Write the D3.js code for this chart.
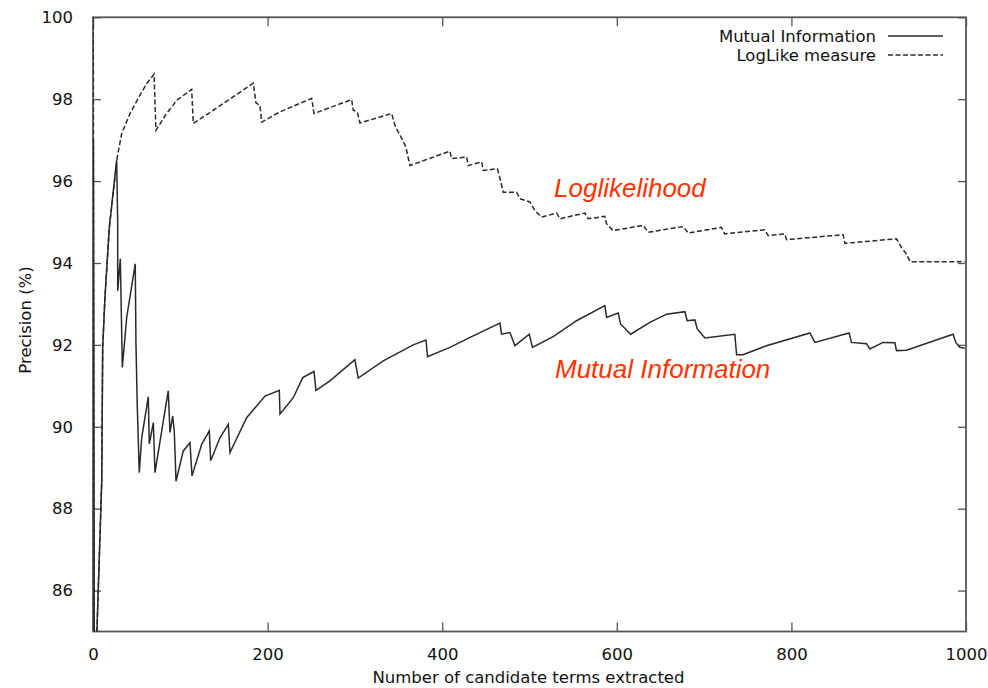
<!DOCTYPE html>
<html>
<head>
<meta charset="utf-8">
<script src="https://cdn.jsdelivr.net/npm/d3@7"></script>
<style>
  body { margin: 0; background: #fff; }
  text { font-family: "DejaVu Sans", sans-serif; }
</style>
</head>
<body>
<div id="chart"></div>
<script>
// precision curves: [terms extracted, precision %]
const mutualInfo = [
  [0.5, 97], [1.5, 84], [3, 84], [10, 88.67], [11.1, 91.94], [13.7, 93.16], [18.7, 94.87],
  [27.1, 96.51], [28.3, 94.96], [28.3, 93.32], [31.3, 94.1], [33.6, 91.45], [38.6, 92.67],
  [48.4, 93.98], [49.2, 92.06], [50.7, 90.51], [53, 88.88], [55.8, 89.73], [63.3, 90.73],
  [64.5, 89.58], [69.1, 90.1], [71, 88.88], [86.2, 90.88], [88.2, 89.86], [91.3, 90.26],
  [93.1, 89.9], [95.1, 88.67], [103.4, 89.41], [111.1, 89.61], [113.4, 88.8], [124.5, 89.57],
  [133.2, 89.9], [134.8, 89.17], [145.4, 89.73], [155, 90.06], [156.9, 89.37], [176, 90.22],
  [197, 90.75], [213.4, 90.89], [214.2, 90.31], [229.4, 90.71], [240.2, 91.2], [253.1, 91.35],
  [255.4, 90.89], [271.4, 91.12], [300, 91.64], [303.8, 91.19], [332.5, 91.61], [366.8, 92.0],
  [381.4, 92.12], [383.3, 91.71], [408.8, 91.94], [435.5, 92.22], [466.1, 92.53], [468, 92.26],
  [477.6, 92.3], [483.3, 91.98], [499.7, 92.26], [503.4, 91.94], [527.1, 92.2], [553.9, 92.59],
  [586.3, 92.96], [588.3, 92.67], [601.6, 92.78], [604.3, 92.51], [615.8, 92.26], [637.9, 92.55],
  [657, 92.75], [678, 92.81], [680.6, 92.59], [689.4, 92.61], [692.1, 92.39], [700.9, 92.17],
  [735.2, 92.26], [737.2, 91.76], [744.7, 91.76], [771.5, 91.98], [821.2, 92.29], [826.9, 92.06],
  [866.1, 92.29], [868.8, 92.06], [886, 92.03], [889.8, 91.9], [905, 92.06], [918.5, 92.05],
  [920.4, 91.86], [931.8, 91.87], [985.2, 92.26], [988.3, 92.06], [992.9, 91.94], [998.6, 91.92]
];

const logLike = [
  [0.3, 100], [1.2, 84], [3, 84], [10, 88.67], [11.1, 91.94], [13.7, 93.16], [18.7, 94.87],
  [27.8, 96.59], [32.9, 97.16], [42.4, 97.65], [53.8, 98.1], [61.5, 98.38], [69.9, 98.61],
  [72.1, 97.24], [84.3, 97.65], [95.8, 97.97], [113, 98.24], [114.9, 97.41], [137.8, 97.73],
  [160.7, 98.06], [183.6, 98.39], [186.7, 97.91], [191.2, 97.85], [193.2, 97.44], [214.2, 97.69],
  [250.5, 98.02], [253.1, 97.65], [296.3, 97.99], [298.1, 97.73], [302.7, 97.69], [305.8, 97.42],
  [342.1, 97.65], [345.9, 97.36], [349.6, 97.2], [354.7, 97.0], [358.4, 96.83], [363, 96.38],
  [408.8, 96.73], [410.8, 96.55], [428, 96.59], [429.8, 96.38], [445.2, 96.47], [447, 96.26],
  [463.3, 96.3], [466.1, 96.07], [469.9, 95.73], [485.2, 95.73], [489, 95.57], [500.5, 95.49],
  [506.2, 95.28], [513.9, 95.12], [531.1, 95.22], [534.9, 95.08], [563.5, 95.22], [567.3, 95.08],
  [586.3, 95.14], [588.2, 94.96], [595.8, 94.79], [630.2, 94.92], [635.9, 94.75], [676, 94.89],
  [681.7, 94.73], [719.9, 94.87], [723.7, 94.71], [769.5, 94.81], [773.3, 94.67], [792.4, 94.71],
  [794.4, 94.57], [859.3, 94.69], [861.2, 94.48], [920.4, 94.59], [926.1, 94.38], [931.8, 94.22],
  [936.1, 94.03], [992.9, 94.03], [998.6, 94.04]
];

const xTicks = [0, 200, 400, 600, 800, 1000];
const yTicks = [86, 88, 90, 92, 94, 96, 98, 100];
const seriesNames = ["Mutual Information", "LogLike measure"];
const annotations = ["Loglikelihood", "Mutual Information"];

const width = 988, height = 688;
const margin = { top: 17.3, right: 22, bottom: 56.5, left: 93 };

const svg = d3.select("#chart").append("svg")
  .attr("width", width)
  .attr("height", height);

const x = d3.scaleLinear().domain([0, 1000]).range([margin.left, width - margin.right]);
const y = d3.scaleLinear().domain([85, 100]).range([height - margin.bottom, margin.top]);

const axisColor = "#555";
const lineColor = "#2a2a2a";

// clip so curves stay inside the frame
svg.append("clipPath").attr("id", "plot-clip")
  .append("rect")
  .attr("x", x(0)).attr("y", y(100))
  .attr("width", x(1000) - x(0)).attr("height", y(85) - y(100));

// gnuplot style: inward ticks on all four sides
function styleAxis(g) {
  g.select(".domain").remove();
  g.selectAll(".tick line").attr("stroke", axisColor).attr("stroke-width", 1.3);
  g.selectAll(".tick text").attr("fill", "#111").style("font-size", "16.5px");
}

svg.append("g")
  .attr("transform", `translate(0,${y(85)})`)
  .call(d3.axisBottom(x).tickValues(xTicks).tickFormat(d3.format("d"))
    .tickSizeInner(-9).tickSizeOuter(0).tickPadding(17))
  .call(styleAxis);

svg.append("g")
  .attr("transform", `translate(0,${y(100)})`)
  .call(d3.axisTop(x).tickValues(xTicks).tickSizeInner(-9).tickSizeOuter(0).tickFormat(""))
  .call(styleAxis);

svg.append("g")
  .attr("transform", `translate(${x(0)},0)`)
  .call(d3.axisLeft(y).tickValues(yTicks).tickSizeInner(-8).tickSizeOuter(0).tickPadding(20))
  .call(styleAxis);

svg.append("g")
  .attr("transform", `translate(${x(1000)},0)`)
  .call(d3.axisRight(y).tickValues(yTicks).tickSizeInner(-8).tickSizeOuter(0).tickFormat(""))
  .call(styleAxis);

// frame
svg.append("rect")
  .attr("x", x(0)).attr("y", y(100))
  .attr("width", x(1000) - x(0)).attr("height", y(85) - y(100))
  .attr("fill", "none")
  .attr("stroke", axisColor)
  .attr("stroke-width", 1.8);

const line = d3.line().x(d => x(d[0])).y(d => y(d[1]));

const plot = svg.append("g").attr("clip-path", "url(#plot-clip)");

plot.append("path")
  .datum(logLike)
  .attr("d", line)
  .attr("fill", "none")
  .attr("stroke", lineColor)
  .attr("stroke-width", 1.5)
  .attr("stroke-dasharray", "5,2.5");

plot.append("path")
  .datum(mutualInfo)
  .attr("d", line)
  .attr("fill", "none")
  .attr("stroke", lineColor)
  .attr("stroke-width", 1.5);

// legend
const legend = svg.append("g");
seriesNames.forEach(function(name, i) {
  const by = 42 + i * 19;
  legend.append("text")
    .attr("x", 876).attr("y", by)
    .attr("text-anchor", "end")
    .style("font-size", "16.5px")
    .attr("fill", "#111")
    .text(name);
  legend.append("line")
    .attr("x1", 888).attr("x2", 943)
    .attr("y1", by - 6).attr("y2", by - 6)
    .attr("stroke", lineColor)
    .attr("stroke-width", 1.4)
    .attr("stroke-dasharray", i === 1 ? "5,2.5" : null);
});

// axis titles
svg.append("text")
  .attr("x", (x(0) + x(1000)) / 2 - 1)
  .attr("y", 683)
  .attr("text-anchor", "middle")
  .style("font-size", "16.5px")
  .attr("fill", "#111")
  .text("Number of candidate terms extracted");

svg.append("text")
  .attr("transform", "translate(31,320) rotate(-90)")
  .attr("text-anchor", "middle")
  .style("font-size", "16.5px")
  .attr("fill", "#111")
  .text("Precision (%)");

// red annotations
const annoPos = [[554, 196.5], [555, 377.5]];
annotations.forEach(function(t, i) {
  svg.append("text")
    .attr("x", annoPos[i][0]).attr("y", annoPos[i][1])
    .style("font-family", "'Liberation Sans', Arial, sans-serif")
    .style("font-style", "italic")
    .style("font-size", "26px")
    .attr("fill", "#ff3300")
    .text(t);
});
</script>
</body>
</html>
